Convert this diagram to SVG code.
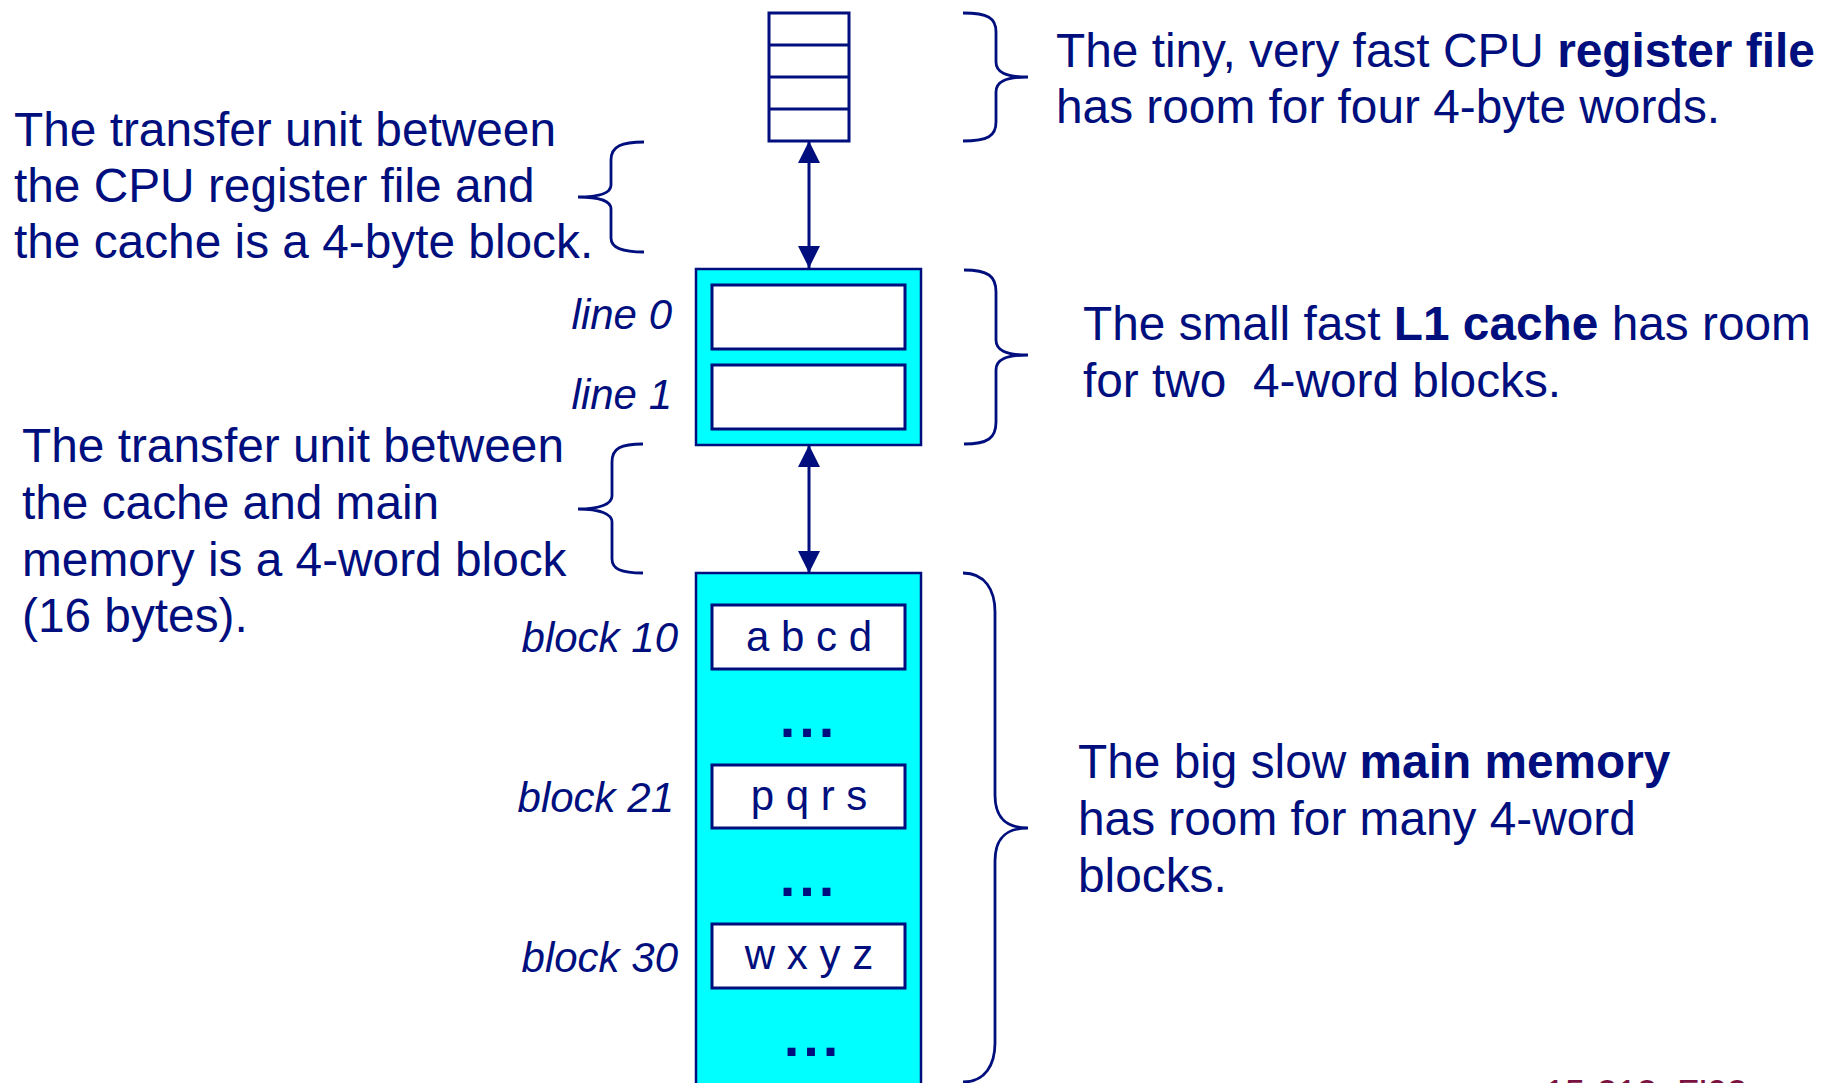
<svg xmlns="http://www.w3.org/2000/svg" width="1843" height="1083" viewBox="0 0 1843 1083">
<defs>
<style>
.t{font-family:"Liberation Sans",Arial,sans-serif;font-size:47.8px;fill:#000f7d}
.b{font-weight:bold}
.lbl{font-family:"Liberation Sans",Arial,sans-serif;font-size:42px;font-style:italic;fill:#000f7d;text-anchor:end}
.cell{font-family:"Liberation Sans",Arial,sans-serif;font-size:42px;fill:#000f7d;text-anchor:middle}
.dots{font-family:"Liberation Sans",Arial,sans-serif;font-size:56px;font-weight:bold;fill:#000f7d;text-anchor:middle;letter-spacing:4px}
.box{fill:#ffffff;stroke:#000f7d;stroke-width:3}
.outer{fill:#00ffff;stroke:#000f7d;stroke-width:2.5}
.brace{fill:none;stroke:#000f7d;stroke-width:2.8}
.conn{stroke:#000f7d;stroke-width:3;fill:none;marker-start:url(#ah);marker-end:url(#ah)}
.foot{font-family:"Liberation Sans",Arial,sans-serif;font-size:36px;fill:#7a1040}
</style>
<marker id="ah" viewBox="0 0 22 22" markerWidth="22" markerHeight="22" refX="22" refY="11" orient="auto-start-reverse" markerUnits="userSpaceOnUse">
<path d="M0,0 L22,11 L0,22 z" fill="#000f7d"/>
</marker>
</defs>
<rect width="1843" height="1083" fill="#ffffff"/>

<g id="register-file">
<rect class="box" x="769" y="13" width="80" height="128"/>
<line x1="769" y1="45" x2="849" y2="45" stroke="#000f7d" stroke-width="3"/>
<line x1="769" y1="77" x2="849" y2="77" stroke="#000f7d" stroke-width="3"/>
<line x1="769" y1="109" x2="849" y2="109" stroke="#000f7d" stroke-width="3"/>
</g>

<g id="l1-cache">
<rect class="outer" x="696" y="269" width="225" height="176"/>
<rect class="box" x="712" y="285" width="193" height="64"/>
<rect class="box" x="712" y="365" width="193" height="64"/>
<text class="lbl" x="672" y="329">line 0</text>
<text class="lbl" x="672" y="409">line 1</text>
</g>

<g id="main-memory">
<rect class="outer" x="696" y="573" width="225" height="530"/>
<rect class="box" x="712" y="605" width="193" height="64"/>
<rect class="box" x="712" y="765" width="193" height="63"/>
<rect class="box" x="712" y="924" width="193" height="64"/>
<text class="cell" x="809" y="651">a b c d</text>
<text class="cell" x="809" y="810">p q r s</text>
<text class="cell" x="809" y="969">w x y z</text>
<text class="dots" x="809" y="737">...</text>
<text class="dots" x="809" y="896">...</text>
<text class="dots" x="813" y="1056">...</text>
<text class="lbl" x="678" y="652">block 10</text>
<text class="lbl" x="674" y="812">block 21</text>
<text class="lbl" x="678" y="972">block 30</text>
</g>

<g id="connectors">
<line class="conn" x1="809" y1="141" x2="809" y2="268"/>
<line class="conn" x1="809" y1="445" x2="809" y2="573"/>
</g>

<g id="braces">
<path class="brace" d="M 963 13 C 988 13 996 18 996 32 L 996 62 C 996 72 1005 77 1028 77 C 1005 77 996 82 996 92 L 996 122 C 996 136 988 141 963 141"/>
<path class="brace" d="M 964 270 C 988 270 996 276 996 292 L 996 340 C 996 350 1005 355 1028 355 C 1005 355 996 360 996 370 L 996 422 C 996 438 988 444 964 444"/>
<path class="brace" d="M 963 573 C 985 573 995 590 995 612 L 995 795 C 995 817 1005 828 1028 828 C 1005 828 995 839 995 861 L 995 1043 C 995 1065 985 1082 963 1082"/>
<path class="brace" d="M 644 142 C 622 142 611 146 611 160 L 611 185 C 611 193 600 197 578 197 C 600 197 611 201 611 209 L 611 238 C 611 248 622 252 644 252"/>
<path class="brace" d="M 643 444 C 621 444 612 448 612 462 L 612 496 C 612 504 600 509 578 509 C 600 509 612 514 612 522 L 612 559 C 612 569 621 573 643 573"/>
</g>

<g id="note-transfer-reg">
<text class="t" x="14" y="146">The transfer unit between</text>
<text class="t" x="14" y="202">the CPU register file and</text>
<text class="t" x="14" y="258">the cache is a 4-byte block.</text>
</g>

<g id="note-transfer-mem">
<text class="t" x="22" y="462">The transfer unit between</text>
<text class="t" x="22" y="519">the cache and main</text>
<text class="t" x="22" y="576">memory is a 4-word block</text>
<text class="t" x="22" y="632">(16 bytes).</text>
</g>

<g id="note-register">
<text class="t" x="1056" y="67">The tiny, very fast CPU <tspan class="b">register file</tspan></text>
<text class="t" x="1056" y="123">has room for four 4-byte words.</text>
</g>

<g id="note-cache">
<text class="t" x="1083" y="340">The small fast <tspan class="b">L1 cache</tspan> has room</text>
<text class="t" x="1083" y="397" xml:space="preserve">for two  4-word blocks.</text>
</g>

<g id="note-memory">
<text class="t" x="1078" y="778">The big slow <tspan class="b">main memory</tspan></text>
<text class="t" x="1078" y="835">has room for many 4-word</text>
<text class="t" x="1078" y="892">blocks.</text>
</g>

<text class="foot" x="1545" y="1106">15-213, F’02</text>
</svg>
